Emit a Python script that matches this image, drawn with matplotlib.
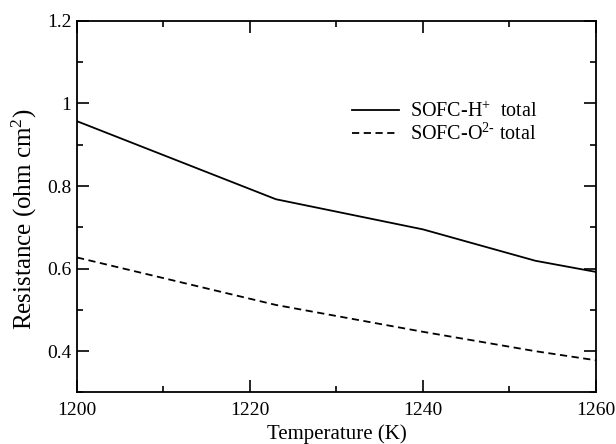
import matplotlib
matplotlib.use('Agg')
import matplotlib.pyplot as plt
from matplotlib.ticker import MultipleLocator, FormatStrFormatter

plt.rcParams['font.family'] = ['Liberation Serif', 'DejaVu Serif']
plt.rcParams['mathtext.fontset'] = 'custom'
plt.rcParams['mathtext.rm'] = 'Liberation Serif'
plt.rcParams['mathtext.it'] = 'Liberation Serif:italic'
plt.rcParams['mathtext.default'] = 'regular'

# data
temperature = [1200, 1223, 1240, 1253, 1260]
r_proton = [0.957, 0.768, 0.695, 0.619, 0.592]
r_oxide = [0.627, 0.512, 0.447, 0.400, 0.378]

fig = plt.figure(figsize=(6.16, 4.44), dpi=100)
ax = fig.add_axes([0.125, 0.116, 0.8425, 0.837])

ax.plot(temperature, r_proton, color='black', lw=1.3, ls='-',
        label='SOFC-H$^{+}$  total')
ax.plot(temperature, r_oxide, color='black', lw=1.3, ls=(0, (4, 2.5)),
        label='SOFC-O$^{2\u2010}$ total')

ax.set_xlim(1200, 1260)
ax.set_ylim(0.3, 1.2)
ax.xaxis.set_major_locator(MultipleLocator(20))
ax.xaxis.set_minor_locator(MultipleLocator(10))
ax.yaxis.set_major_locator(MultipleLocator(0.2))
ax.yaxis.set_minor_locator(MultipleLocator(0.1))
ax.yaxis.set_major_formatter(FormatStrFormatter('%g'))
ax.tick_params(which='both', direction='in', top=True, right=True,
               labelsize=14, width=1.2)
ax.tick_params(axis='x', pad=6.5)
ax.tick_params(axis='y', pad=4)
ax.tick_params(which='major', length=8.5)
ax.tick_params(which='minor', length=4.5)
for s in ax.spines.values():
    s.set_linewidth(1.3)

ax.set_xlabel('Temperature (K)', fontsize=15, labelpad=4)
ax.set_ylabel('Resistance (ohm cm$^{2}$)', fontsize=18)
ax.yaxis.set_label_coords(-0.074, 0.466)

ax.legend(loc='upper left', bbox_to_anchor=(0.511, 0.809), frameon=False,
          fontsize=14.5, handlelength=2.34, handletextpad=0.55,
          labelspacing=0.1, borderpad=0)

fig.savefig('out.png', dpi=100)
